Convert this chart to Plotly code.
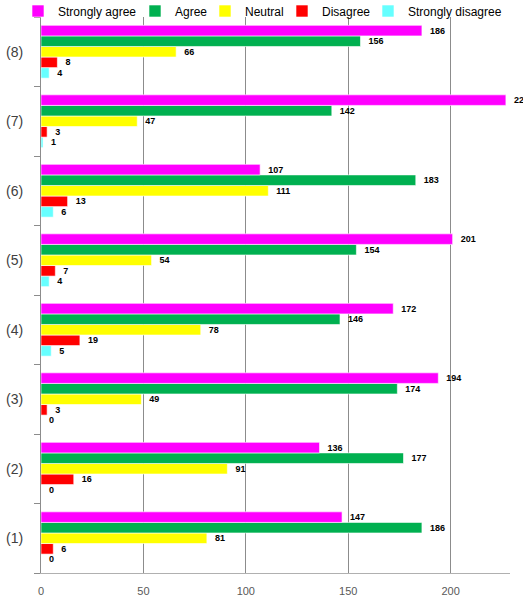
import plotly.graph_objects as go

categories = ["(1)", "(2)", "(3)", "(4)", "(5)", "(6)", "(7)", "(8)"]
strongly_agree = [147, 136, 194, 172, 201, 107, 227, 186]
agree = [186, 177, 174, 146, 154, 183, 142, 156]
neutral = [81, 91, 49, 78, 54, 111, 47, 66]
disagree = [6, 16, 3, 19, 7, 13, 3, 8]
strongly_disagree = [0, 0, 0, 5, 4, 6, 1, 4]

series = [
    ("Strongly agree", strongly_agree, "#ff00ff"),
    ("Agree", agree, "#00b050"),
    ("Neutral", neutral, "#ffff00"),
    ("Disagree", disagree, "#ff0000"),
    ("Strongly disagree", strongly_disagree, "#66ffff"),
]
# left edge (px) of each legend entry's text in the figure
legend_text_x = [58, 175, 245, 322, 408]

W, H = 523, 602
fig = go.Figure()
for i, (name, vals, color) in reversed(list(enumerate(series))):
    lg = "legend" if i == 0 else f"legend{i + 1}"
    fig.add_trace(go.Bar(
        y=categories, x=vals, name=name, orientation="h",
        marker=dict(color=color, line=dict(color="white", width=0.6)),
        text=vals, texttemplate="  %{x}", textposition="outside",
        textfont=dict(family="Liberation Sans", size=9, color="#000000", weight="bold"),
        constraintext="none", cliponaxis=False, legend=lg,
    ))

layout_legends = {}
for i, (name, vals, color) in enumerate(series):
    lg = "legend" if i == 0 else f"legend{i + 1}"
    layout_legends[lg] = dict(
        orientation="h", xref="container", yref="container",
        x=(legend_text_x[i] - 40) / W, y=1 - 11 / H,
        xanchor="left", yanchor="middle",
        font=dict(family="Liberation Sans", size=12, color="#000000"),
        bgcolor="rgba(0,0,0,0)", borderwidth=0, itemwidth=30,
    )

fig.update_layout(
    width=W, height=H,
    margin=dict(l=41, r=13, t=17, b=29, autoexpand=False),
    paper_bgcolor="white", plot_bgcolor="white",
    barmode="group", bargap=0.24, bargroupgap=0,
    showlegend=True,
    xaxis=dict(range=[0, 229], tickvals=[0, 50, 100, 150, 200],
               showgrid=True, gridcolor="#8c8c8c", gridwidth=1.2,
               showline=True, linecolor="#b0b0b0", linewidth=1,
               zeroline=False, ticks="", ticklabelstandoff=8, automargin=False,
               tickfont=dict(family="Liberation Sans", size=11, color="#595959")),
    yaxis=dict(showline=True, linecolor="#8c8c8c", linewidth=1,
               ticks="outside", ticklen=6, tickcolor="#8c8c8c", tickson="boundaries",
               showgrid=False, ticklabelstandoff=14, automargin=False,
               tickfont=dict(family="Liberation Sans", size=14, color="#404040")),
    **layout_legends,
)

fig.write_html("out.html")
